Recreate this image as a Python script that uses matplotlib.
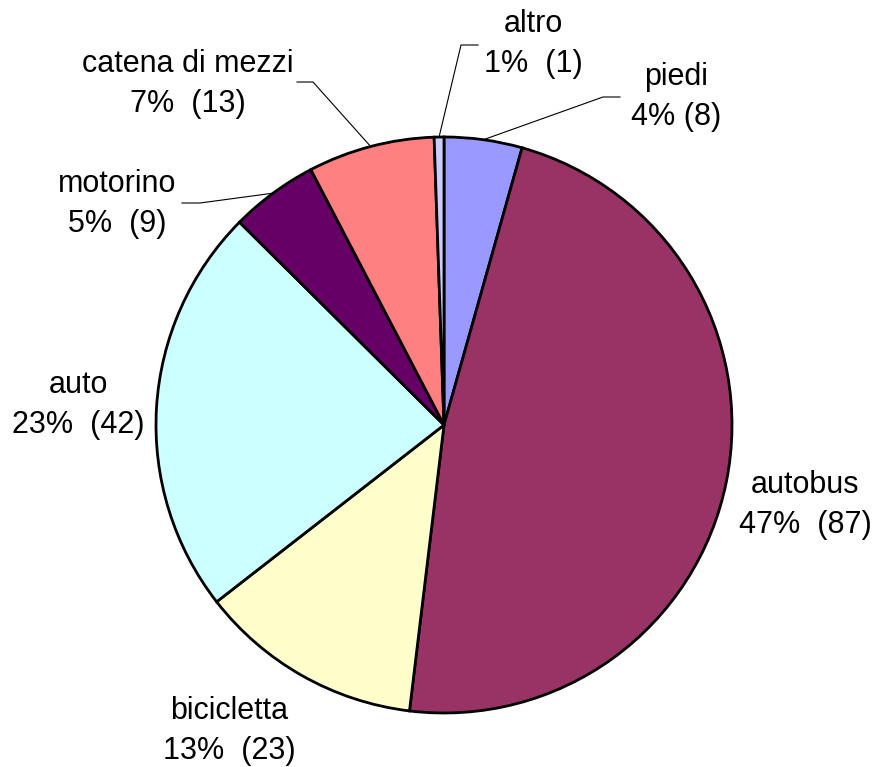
import numpy as np
import matplotlib; matplotlib.use("Agg")
import matplotlib.pyplot as plt
matplotlib.rcParams["font.family"] = ["Liberation Sans", "DejaVu Sans"]

# ---- dati ----
categorie = ["piedi", "autobus", "bicicletta", "auto", "motorino", "catena di mezzi", "altro"]
conteggi = [8, 87, 23, 42, 9, 13, 1]
percentuali = ["4%", "47%", "13%", "23%", "5%", "7%", "1%"]
colori = ["#9999FF", "#993366", "#FFFFCC", "#CCFFFF", "#660066", "#FF8080", "#CCCCFF"]

W, H = 877, 767
# posizioni etichette (pixel, origine in alto a sinistra)
pos_etichette = {
    "piedi": (676, 97), "autobus": (805, 505), "bicicletta": (229, 731),
    "auto": (78, 405), "motorino": (117, 204), "catena di mezzi": (188, 84), "altro": (533, 44),
}
# linee guida: gomito e fine (pixel)
guide = {
    "piedi": [(603, 97), (620, 97)],
    "altro": [(461, 45), (478, 45)],
    "catena di mezzi": [(313, 82), (297, 82)],
    "motorino": [(200, 203), (182, 203)],
}
sep = {"piedi": " "}

cx, cy, r = 444, H - 425, 288

fig = plt.figure(figsize=(W / 100, H / 100), dpi=100)
ax = fig.add_axes([0, 0, 1, 1])

wedges, _ = ax.pie(conteggi, colors=colori, startangle=90, counterclock=False,
                   center=(cx, cy), radius=r,
                   wedgeprops=dict(edgecolor="black", linewidth=2.0))
ax.set_xlim(0, W); ax.set_ylim(0, H); ax.set_aspect("equal"); ax.axis("off")

for w, cat, pc, n in zip(wedges, categorie, percentuali, conteggi):
    px, py = pos_etichette[cat]
    s = sep.get(cat, "  ")
    ax.text(px, H - py, f"{cat}\n{pc}{s}({n})", ha="center", va="center",
            fontsize=22, linespacing=1.42)
    if cat in guide:
        a = np.deg2rad((w.theta1 + w.theta2) / 2)
        xs = [cx + r * np.cos(a)] + [p[0] for p in guide[cat]]
        ys = [cy + r * np.sin(a)] + [H - p[1] for p in guide[cat]]
        ax.plot(xs, ys, color="black", linewidth=0.8, zorder=0)

fig.savefig("out.png", dpi=100)
